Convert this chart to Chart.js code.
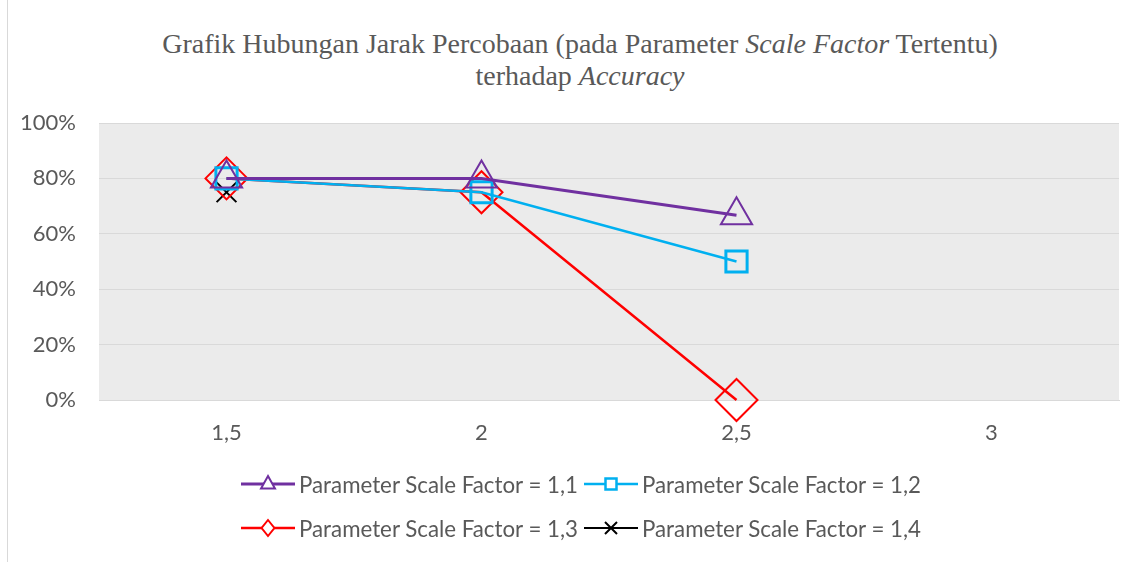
<!DOCTYPE html>
<html>
<head>
<meta charset="utf-8">
<script src="https://cdn.jsdelivr.net/npm/chart.js@4/dist/chart.umd.min.js"></script>
<style>
  body { margin: 0; background: #fff; }
  #wrap { position: relative; width: 1142px; height: 562px; overflow: hidden; }
  #frame { position: absolute; left: 7px; top: 0; width: 1px; height: 562px; background: #d9d9d9; }
  #title {
    position: absolute; left: 0; top: 28px; width: 1160px; text-align: center;
    font-family: "Liberation Serif", serif; font-size: 28px; line-height: 32px; color: #595959;
  }
  #chart { position: absolute; left: 0; top: 0; }
  #legend {
    position: absolute; left: 0; top: 466px; width: 1162px;
    display: grid; grid-template-columns: auto auto; justify-content: center;
    column-gap: 6px; row-gap: 8px;
    font-family: Lato, sans-serif; font-size: 22.3px; color: #595959;
  }
  .item { display: flex; align-items: center; height: 36px; white-space: nowrap; }
  .item canvas { margin-right: 4px; }
</style>
</head>
<body>
<div id="wrap">
  <div id="frame"></div>
  <div id="title">Grafik Hubungan Jarak Percobaan (pada Parameter <i>Scale Factor</i> Tertentu)<br>terhadap <i>Accuracy</i></div>
  <canvas id="chart" width="1142" height="562"></canvas>
  <div id="legend"></div>
</div>
<script>
// data
const categories = ['1,5', '2', '2,5', '3'];
const yTicks = [0, 0.2, 0.4, 0.6, 0.8, 1];
const seriesLabels = [
  'Parameter Scale Factor = 1,1',
  'Parameter Scale Factor = 1,2',
  'Parameter Scale Factor = 1,3',
  'Parameter Scale Factor = 1,4',
];
const sf11 = [0.8, 0.8, 0.667, null];
const sf12 = [0.8, 0.75, 0.5, null];
const sf13 = [0.8, 0.75, 0, null];
const sf14 = [0.75, null, null, null];

const styles = [
  { color: '#7030A0', width: 3, point: 'triangle', radius: 18, pw: 2 },
  { color: '#00B0F0', width: 2.5, point: 'rect', radius: 15, pw: 3 },
  { color: '#FF0000', width: 2.5, point: 'rectRot', radius: 21, pw: 2 },
  { color: '#000000', width: 2, point: 'crossRot', radius: 14, pw: 2 },
];

const plotBg = {
  id: 'plotBg',
  beforeDraw(chart) {
    const { ctx, chartArea: a } = chart;
    ctx.save();
    ctx.fillStyle = '#ebebeb';
    ctx.fillRect(a.left, a.top, a.right - a.left, a.bottom - a.top);
    ctx.restore();
  },
};

const datasets = [sf11, sf12, sf13, sf14].map((data, i) => ({
  label: seriesLabels[i],
  data,
  borderColor: styles[i].color,
  borderWidth: styles[i].width,
  pointStyle: styles[i].point,
  pointRadius: styles[i].radius,
  pointHoverRadius: styles[i].radius,
  pointBorderColor: styles[i].color,
  pointBackgroundColor: 'rgba(0,0,0,0)',
  pointBorderWidth: styles[i].pw,
  tension: 0,
  clip: false,
  order: i,
}));

new Chart(document.getElementById('chart'), {
  type: 'line',
  data: { labels: categories, datasets },
  options: {
    responsive: false,
    animation: false,
    layout: { padding: { top: 123, right: 22, bottom: 112, left: 0 } },
    plugins: { legend: { display: false }, title: { display: false }, tooltip: { enabled: false } },
    scales: {
      x: {
        offset: true,
        grid: { display: false, drawTicks: false },
        border: { color: '#d9d9d9', width: 1 },
        ticks: { color: '#595959', font: { family: 'Lato', size: 22 }, padding: 20 },
        afterFit(scale) { scale.height = 50; },
      },
      y: {
        min: 0,
        max: 1,
        afterBuildTicks(scale) { scale.ticks = yTicks.map(v => ({ value: v })); },
        grid: { color: '#d9d9d9', drawTicks: false },
        border: { display: false },
        ticks: {
          color: '#595959', font: { family: 'Lato', size: 22 }, padding: 23,
          callback: v => Math.round(v * 100) + '%',
        },
        afterFit(scale) { scale.width = 99; },
      },
    },
  },
  plugins: [plotBg],
});

// legend with line + marker icons
function drawIcon(ctx, s) {
  const w = 54, h = 36, cx = w / 2, cy = h / 2;
  ctx.strokeStyle = s.color;
  ctx.lineWidth = s.width;
  ctx.beginPath(); ctx.moveTo(0, cy); ctx.lineTo(w, cy); ctx.stroke();
  ctx.lineWidth = 2;
  const r = 8;
  ctx.beginPath();
  if (s.point === 'triangle') {
    ctx.fillStyle = '#fff';
    ctx.moveTo(cx, cy - r); ctx.lineTo(cx + r * 0.87, cy + r * 0.55); ctx.lineTo(cx - r * 0.87, cy + r * 0.55); ctx.closePath();
    ctx.fill(); ctx.stroke();
  } else if (s.point === 'rect') {
    ctx.fillStyle = '#fff';
    ctx.lineWidth = 2.5;
    ctx.rect(cx - 5.5, cy - 5.5, 11, 11); ctx.fill(); ctx.stroke();
  } else if (s.point === 'rectRot') {
    ctx.fillStyle = '#fff';
    ctx.moveTo(cx, cy - r); ctx.lineTo(cx + r * 0.8, cy); ctx.lineTo(cx, cy + r); ctx.lineTo(cx - r * 0.8, cy); ctx.closePath();
    ctx.fill(); ctx.stroke();
  } else {
    ctx.moveTo(cx - 6, cy - 6); ctx.lineTo(cx + 6, cy + 6);
    ctx.moveTo(cx + 6, cy - 6); ctx.lineTo(cx - 6, cy + 6); ctx.stroke();
  }
}

const legendEl = document.getElementById('legend');
seriesLabels.forEach((label, i) => {
  const item = document.createElement('div');
  item.className = 'item';
  const c = document.createElement('canvas');
  c.width = 54; c.height = 36;
  drawIcon(c.getContext('2d'), styles[i]);
  const span = document.createElement('span');
  span.textContent = label;
  item.appendChild(c);
  item.appendChild(span);
  legendEl.appendChild(item);
});
</script>
</body>
</html>
